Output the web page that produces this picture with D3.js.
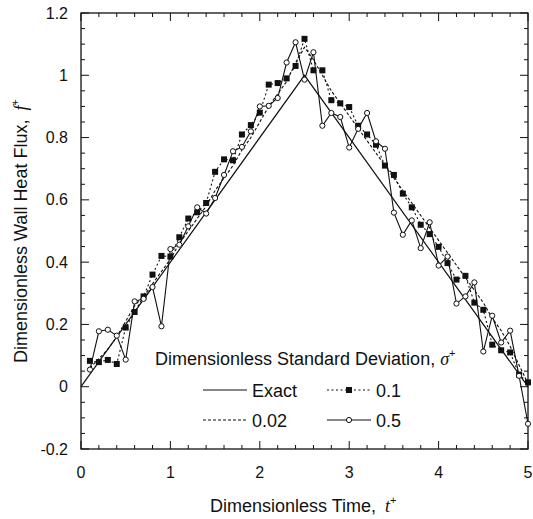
<!DOCTYPE html>
<html><head><meta charset="utf-8">
<script src="https://cdn.jsdelivr.net/npm/d3@7"></script>
<style>
html,body{margin:0;padding:0;background:#fff;}
text{font-family:"Liberation Sans",Arial,sans-serif;fill:#111;}
</style></head>
<body><svg id="chart" width="533" height="519"></svg>
<script>
// ---- data ----
const time = [0.1,0.2,0.3,0.4,0.5,0.6,0.7,0.8,0.9,1.0,1.1,1.2,1.3,1.4,1.5,1.6,1.7,1.8,1.9,2.0,
              2.1,2.2,2.3,2.4,2.5,2.6,2.7,2.8,2.9,3.0,3.1,3.2,3.3,3.4,3.5,3.6,3.7,3.8,3.9,4.0,
              4.1,4.2,4.3,4.4,4.5,4.6,4.7,4.8,4.9,5.0];
const exactTime = [0, 2.5, 5];
const exactFlux = [0, 1, 0];
const sigma002 = [0.06,0.09,0.12,0.16,0.21,0.26,0.29,0.33,0.37,0.41,0.46,0.50,0.54,0.58,0.63,0.67,0.71,0.76,0.80,0.85,
                  0.90,0.94,0.98,1.04,1.09,1.05,1.00,0.95,0.91,0.87,0.83,0.79,0.75,0.71,0.67,0.63,0.59,0.55,0.51,0.47,
                  0.43,0.39,0.35,0.31,0.27,0.22,0.18,0.13,0.07,0.01];
const sigma01 = [0.083,0.079,0.086,0.073,0.19,0.24,0.29,0.36,0.42,0.418,0.48,0.54,0.56,0.59,0.69,0.73,0.727,0.81,0.84,0.88,
                 0.97,0.975,0.99,1.03,1.117,1.016,1.016,0.92,0.91,0.898,0.838,0.81,0.777,0.71,0.68,0.62,0.576,0.52,0.49,0.449,
                 0.397,0.344,0.356,0.27,0.247,0.135,0.117,0.11,0.039,0.014];
const sigma05 = [0.055,0.178,0.183,0.164,0.087,0.274,0.282,0.32,0.194,0.442,0.456,0.515,0.576,0.556,0.606,0.68,0.756,0.77,0.82,0.90,
                 0.902,0.927,1.041,1.106,0.986,1.074,0.838,0.879,0.866,0.768,0.828,0.879,0.788,0.764,0.559,0.488,0.534,0.445,0.528,0.389,
                 0.418,0.267,0.29,0.335,0.113,0.228,0.142,0.18,0.035,-0.119];
const xTicks = [0,1,2,3,4,5];
const yTicks = [-0.2,0,0.2,0.4,0.6,0.8,1,1.2];
const yTickLabels = ["-0.2","0","0.2","0.4","0.6","0.8","1","1.2"];
const legendTitle = "Dimensionless Standard Deviation, ";
const legendLabels = ["Exact","0.02","0.1","0.5"];

// ---- layout ----
const svg = d3.select("#chart");
const L = 81, R = 528, T = 13, B = 449;
const x = d3.scaleLinear().domain([0,5]).range([L,R]);
const y = d3.scaleLinear().domain([-0.2,1.2]).range([B,T]);

// frame
svg.append("rect").attr("x",L).attr("y",T).attr("width",R-L).attr("height",B-T)
  .attr("fill","none").attr("stroke","#111").attr("stroke-width",1.3);

// ticks (inward, all four sides)
const xMinor = d3.range(0,5.0001,0.2);
const yMinor = d3.range(-0.2,1.2001,0.05);
const tk = svg.append("g").attr("stroke","#111").attr("stroke-width",1);
xMinor.forEach(v=>{
  const major = Math.abs(v-Math.round(v))<1e-6;
  const len = major?8:4;
  tk.append("line").attr("x1",x(v)).attr("x2",x(v)).attr("y1",B).attr("y2",B-len);
  tk.append("line").attr("x1",x(v)).attr("x2",x(v)).attr("y1",T).attr("y2",T+len);
});
yMinor.forEach(v=>{
  const r = v/0.2;
  const major = Math.abs(r-Math.round(r))<1e-6;
  const len = major?8:4;
  tk.append("line").attr("x1",L).attr("x2",L+len).attr("y1",y(v)).attr("y2",y(v));
  tk.append("line").attr("x1",R).attr("x2",R-len).attr("y1",y(v)).attr("y2",y(v));
});

// tick labels
svg.append("g").selectAll("text").data(xTicks).join("text")
  .attr("x",d=>x(d)).attr("y",478).attr("text-anchor","middle")
  .attr("font-size",16).text(d=>d);
svg.append("g").selectAll("text").data(yTicks).join("text")
  .attr("x",68).attr("y",d=>y(d)+5.5).attr("text-anchor","end")
  .attr("font-size",16).text((d,i)=>yTickLabels[i]);

// axis titles
const xt = svg.append("text").attr("x",210).attr("y",512).attr("font-size",18);
xt.append("tspan").text("Dimensionless Time,  ");
xt.append("tspan").attr("font-style","italic").attr("font-family","Liberation Serif, serif").attr("dx",4).text("t");
xt.append("tspan").attr("font-size",11).attr("dy",-8).text("+");

const yt = svg.append("text").attr("transform","translate(27,363) rotate(-90)").attr("font-size",18);
yt.append("tspan").text("Dimensionless Wall Heat Flux,  ");
yt.append("tspan").attr("font-style","italic").attr("font-family","Liberation Serif, serif").attr("dx",4).text("f");
yt.append("tspan").attr("font-size",11).attr("dy",-8).text("+");

// lines
const line = d3.line().x(d=>x(d[0])).y(d=>y(d[1]));
const plot = svg.append("g");
plot.append("path").datum(exactTime.map((t,i)=>[t,exactFlux[i]])).attr("d",line)
  .attr("fill","none").attr("stroke","#111").attr("stroke-width",1.2);
plot.append("path").datum(time.map((t,i)=>[t,sigma002[i]])).attr("d",line)
  .attr("fill","none").attr("stroke","#111").attr("stroke-width",1.1).attr("stroke-dasharray","3,2");
plot.append("path").datum(time.map((t,i)=>[t,sigma01[i]])).attr("d",line)
  .attr("fill","none").attr("stroke","#111").attr("stroke-width",1.1).attr("stroke-dasharray","2,2.5");
plot.append("path").datum(time.map((t,i)=>[t,sigma05[i]])).attr("d",line)
  .attr("fill","none").attr("stroke","#111").attr("stroke-width",1.1);
plot.append("g").selectAll("rect").data(time.map((t,i)=>[t,sigma01[i]])).join("rect")
  .attr("x",d=>x(d[0])-3).attr("y",d=>y(d[1])-3).attr("width",6).attr("height",6).attr("fill","#111");
plot.append("g").selectAll("circle").data(time.map((t,i)=>[t,sigma05[i]])).join("circle")
  .attr("cx",d=>x(d[0])).attr("cy",d=>y(d[1])).attr("r",2.6)
  .attr("fill","#fff").attr("stroke","#111").attr("stroke-width",1);

// legend
const lg = svg.append("g");
const lt = lg.append("text").attr("x",155).attr("y",365).attr("font-size",18);
lt.append("tspan").text(legendTitle);
lt.append("tspan").attr("font-style","italic").attr("font-family","Liberation Serif, serif").text("σ");
lt.append("tspan").attr("font-size",11).attr("dy",-8).text("+");
const items = [
  {lab:legendLabels[0], x0:203, yy:390, dash:null, mk:null},
  {lab:legendLabels[1], x0:203, yy:420, dash:"3,2", mk:null},
  {lab:legendLabels[2], x0:327, yy:390, dash:"2,2.5", mk:"sq"},
  {lab:legendLabels[3], x0:327, yy:420, dash:null, mk:"ci"}
];
items.forEach(it=>{
  const ln = lg.append("line").attr("x1",it.x0).attr("x2",it.x0+44).attr("y1",it.yy).attr("y2",it.yy)
    .attr("stroke","#111").attr("stroke-width",1.1);
  if(it.dash) ln.attr("stroke-dasharray",it.dash);
  const cx = it.x0+22;
  if(it.mk==="sq") lg.append("rect").attr("x",cx-3).attr("y",it.yy-3).attr("width",6).attr("height",6).attr("fill","#111");
  if(it.mk==="ci") lg.append("circle").attr("cx",cx).attr("cy",it.yy).attr("r",2.6).attr("fill","#fff").attr("stroke","#111");
  lg.append("text").attr("x",it.x0+49).attr("y",it.yy+6.5).attr("font-size",18).text(it.lab);
});
</script></body></html>
